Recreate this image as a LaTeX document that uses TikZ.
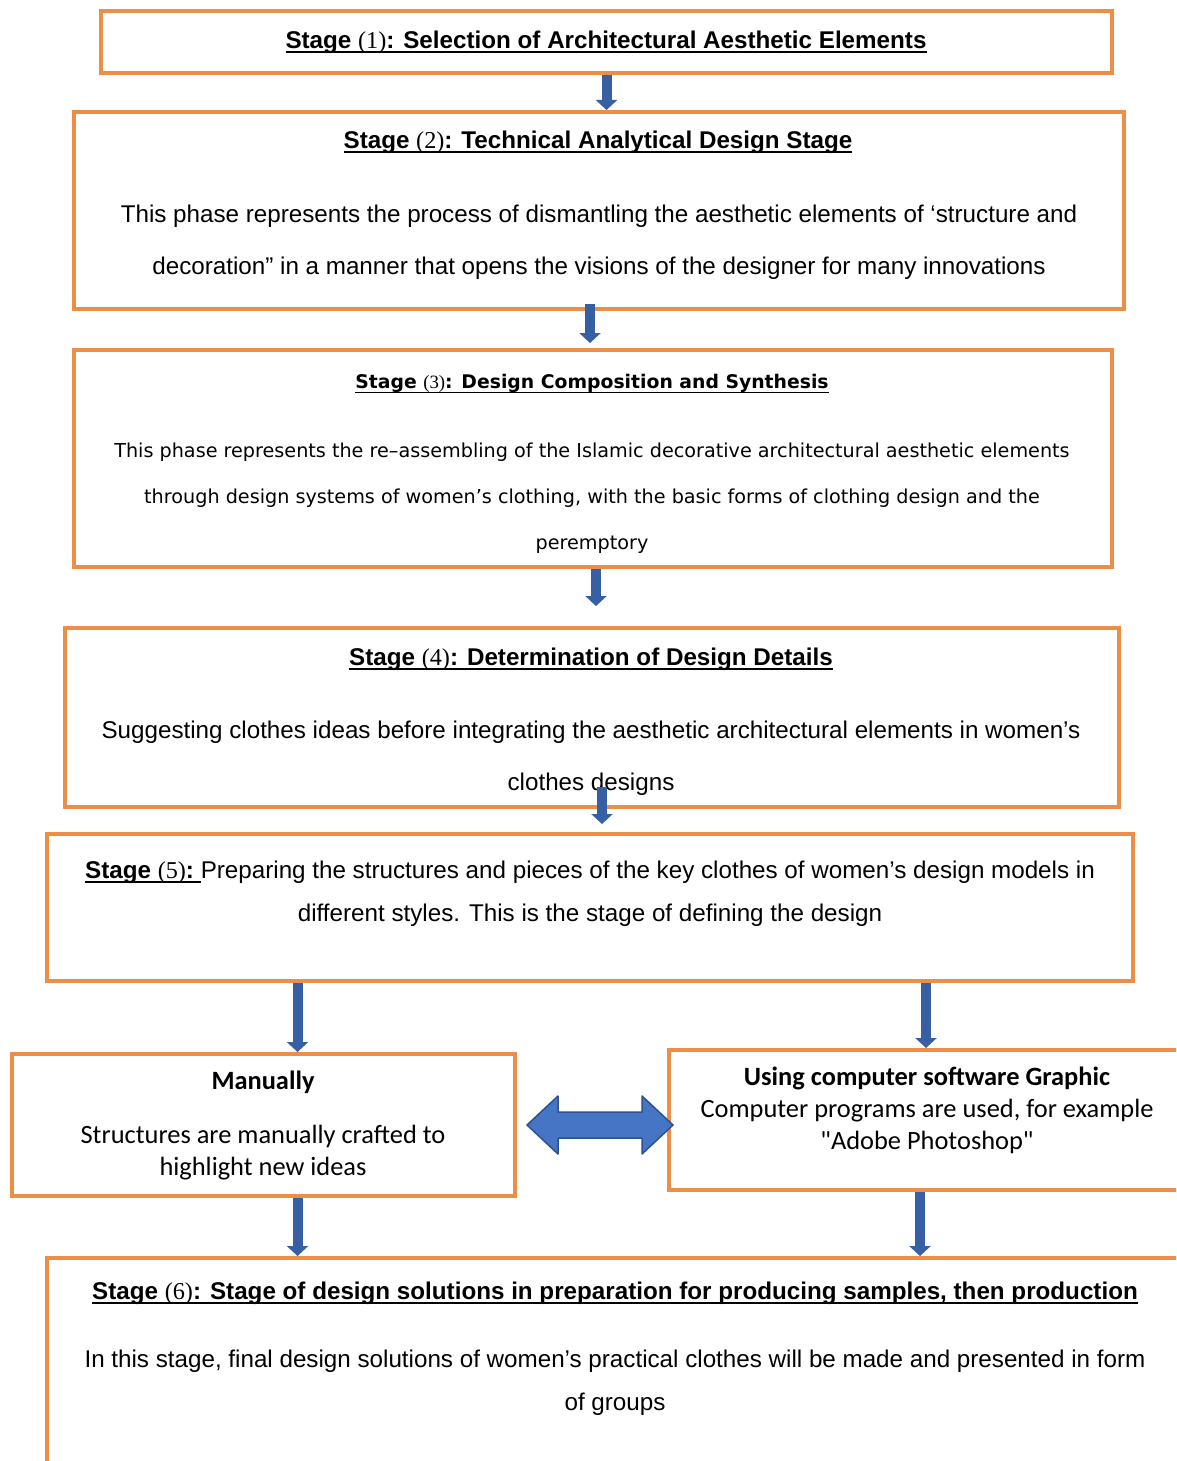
\documentclass[tikz,border=0pt]{standalone}
\usepackage{fontspec}
\usetikzlibrary{arrows.meta,positioning}
\setmainfont{Liberation Sans}
\newfontfamily\numfont{Liberation Serif}
\newfontfamily\widefont{DejaVu Sans}
\newfontfamily\calibfont{Carlito}
\definecolor{boxorange}{RGB}{237,142,72}
\definecolor{arrowblue}{RGB}{54,96,163}
\definecolor{dblfill}{RGB}{70,117,198}
\definecolor{dbldraw}{RGB}{46,82,145}
\newcommand{\ulin}[1]{\setbox0=\hbox{#1}\rlap{\vrule width\wd0 height -2.8pt depth 4.6pt}\box0}
\newcommand{\stnum}[1]{{\numfont\mdseries(#1)}}
\tikzset{%
  >={Triangle[width=21pt,length=10pt]},
  % Specifications for style of nodes:
        stagebox/.style = {rectangle, draw=boxorange, line width=4pt,
                           inner sep=0pt, fill=white},
       titletext/.style = {font=\fontsize{24.2}{28}\selectfont\bfseries},
        bodytext/.style = {align=center, font=\fontsize{24.2}{52}\selectfont},
       widetitle/.style = {font=\widefont\fontsize{18.8}{22}\selectfont\bfseries},
        widebody/.style = {align=center, font=\widefont\fontsize{19.2}{46}\selectfont},
       calibtext/.style = {align=center, font=\calibfont\fontsize{26.4}{31.5}\selectfont},
  % Specifications for style of arrows:
       flowarrow/.style = {->, draw=arrowblue, line width=10pt},
        bothways/.style = {fill=dblfill, draw=dbldraw, line width=1.5pt,
                           line join=round},
}

\begin{document}
\begin{tikzpicture}[x=1pt, y=-1pt]
  \useasboundingbox (0,0) rectangle (1176,1461);
  \clip (0,0) rectangle (1176,1461);
  \fill[white] (0,0) rectangle (1176,1461);
  % Specification of boxes (position, size)
  \node (s1) [stagebox, minimum width=1011pt, minimum height=62pt]  at (606.5,42)   {};
  \node (s2) [stagebox, minimum width=1050pt, minimum height=197pt] at (599,210.5)  {};
  \node (s3) [stagebox, minimum width=1038pt, minimum height=217pt] at (593,458.5)  {};
  \node (s4) [stagebox, minimum width=1054pt, minimum height=179pt] at (592,717.5)  {};
  \node (s5) [stagebox, minimum width=1086pt, minimum height=147pt] at (590,907.5)  {};
  \node (s6) [stagebox, minimum width=503pt,  minimum height=142pt] at (263.5,1125) {};
  \node (s7) [stagebox, minimum width=514pt,  minimum height=140pt] at (926,1120)   {};
  \node (s8) [stagebox, minimum width=1143pt, minimum height=222pt] at (618.5,1369) {};
  % Texts inside the boxes
  \node (t1) [titletext] at (606,42)
        {\ulin{Stage \stnum{1}: Selection of Architectural Aesthetic Elements}};
  \node (t2) [titletext] at (598,142)
        {\ulin{Stage \stnum{2}: Technical Analytical Design Stage}};
  \node (b2) [bodytext] at (599,242)
        {This phase represents the process of dismantling the aesthetic elements of ‘structure and\\
         decoration” in a manner that opens the visions of the designer for many innovations};
  \node (t3) [widetitle] at (592,384)
        {\ulin{Stage \stnum{3}: Design Composition and Synthesis}};
  \node (b3) [widebody] at (592,498)
        {This phase represents the re–assembling of the Islamic decorative architectural aesthetic elements\\
         through design systems of women’s clothing, with the basic forms of clothing design and the\\
         peremptory};
  \node (t4) [titletext] at (591,659)
        {\ulin{Stage \stnum{4}: Determination of Design Details}};
  \node (b4) [bodytext] at (591,758)
        {Suggesting clothes ideas before integrating the aesthetic architectural elements in women's\\
         clothes designs};
  \node (b5) [bodytext, font=\fontsize{24.2}{43}\selectfont] at (590,893.5)
        {{\bfseries\ulin{Stage \stnum{5}:~}}Preparing the structures and pieces of the key clothes of women’s design models in\\
         different styles. This is the stage of defining the design};
  \node (t6) [calibtext, font=\calibfont\fontsize{26.4}{30}\selectfont\bfseries] at (263,1082) {Manually};
  \node (b6) [calibtext] at (263,1152.5)
        {Structures are manually crafted to\\ highlight new ideas};
  \node (b7) [calibtext, font=\calibfont\fontsize{26.4}{32}\selectfont] at (927,1110)
        {\textbf{Using computer software Graphic}\\
         Computer programs are used, for example\\
         "Adobe Photoshop"};
  \node (t8) [titletext] at (615,1293)
        {\ulin{Stage \stnum{6}: Stage of design solutions in preparation for producing samples, then production}};
  \node (b8) [bodytext, font=\fontsize{24.2}{43}\selectfont] at (615,1382.5)
        {In this stage, final design solutions of women’s practical clothes will be made and presented in form\\
         of groups};
  % Helper points for the arrows below stage 5
  \coordinate (mIn)  at ([xshift=34pt]s6.north);
  \coordinate (cOut) at ([xshift=-6pt]s7.south);
  \coordinate (dl)   at ([xshift=10pt]s6.east);
  % Specification of arrows between boxes
  \draw[flowarrow] (s1.south) -- (s2.north -| s1.south);
  \draw[flowarrow] ([xshift=-9pt,yshift=7pt]s2.south) -- ([xshift=-3pt,yshift=5pt]s3.north);
  \draw[flowarrow] ([xshift=3pt]s3.south) -- ([xshift=4pt,yshift=20pt]s4.north);
  \draw[flowarrow] ([xshift=10pt,yshift=22pt]s4.south) -- ([xshift=12pt,yshift=8pt]s5.north);
  \draw[flowarrow] (mIn |- s5.south) -- (mIn);
  \draw[flowarrow] (s7.north |- s5.south) -- (s7.north);
  \draw[flowarrow] (mIn |- s6.south) -- (mIn |- s8.north);
  \draw[flowarrow] (cOut) -- (cOut |- s8.north);
  % two-way arrow between manual and computer work
  \filldraw[bothways] (dl) -- ++(31,-29) -- ++(0,16) -- ++(84,0) -- ++(0,-16)
     -- ++(31,29) -- ++(-31,29) -- ++(0,-16) -- ++(-84,0) -- ++(0,16) -- cycle;
\end{tikzpicture}
\end{document}
